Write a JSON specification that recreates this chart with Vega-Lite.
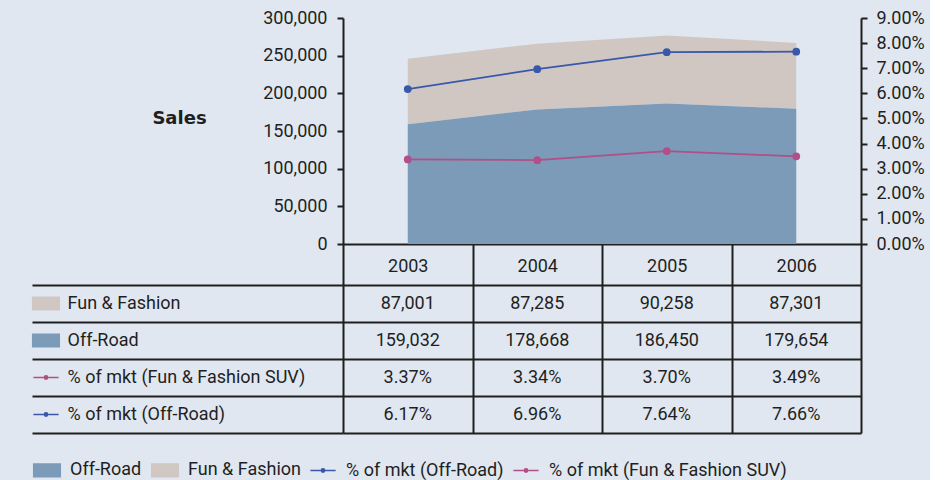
{
  "$schema": "https://vega.github.io/schema/vega-lite/v6.json",
  "background": "#e0e7f0",
  "padding": {"left": 29, "top": 9, "right": 5, "bottom": 0},
  "datasets": {
    "sales": [
      {"year": "2003", "series": "Fun & Fashion", "sales": 87001},
      {"year": "2004", "series": "Fun & Fashion", "sales": 87285},
      {"year": "2005", "series": "Fun & Fashion", "sales": 90258},
      {"year": "2006", "series": "Fun & Fashion", "sales": 87301},
      {"year": "2003", "series": "Off-Road", "sales": 159032},
      {"year": "2004", "series": "Off-Road", "sales": 178668},
      {"year": "2005", "series": "Off-Road", "sales": 186450},
      {"year": "2006", "series": "Off-Road", "sales": 179654}
    ],
    "share": [
      {"year": "2003", "series": "% of mkt (Fun & Fashion SUV)", "share": 0.0337},
      {"year": "2004", "series": "% of mkt (Fun & Fashion SUV)", "share": 0.0334},
      {"year": "2005", "series": "% of mkt (Fun & Fashion SUV)", "share": 0.0370},
      {"year": "2006", "series": "% of mkt (Fun & Fashion SUV)", "share": 0.0349},
      {"year": "2003", "series": "% of mkt (Off-Road)", "share": 0.0617},
      {"year": "2004", "series": "% of mkt (Off-Road)", "share": 0.0696},
      {"year": "2005", "series": "% of mkt (Off-Road)", "share": 0.0764},
      {"year": "2006", "series": "% of mkt (Off-Road)", "share": 0.0766}
    ],
    "series": [
      {"series": "Fun & Fashion"},
      {"series": "Off-Road"},
      {"series": "% of mkt (Fun & Fashion SUV)"},
      {"series": "% of mkt (Off-Road)"}
    ]
  },
  "columns": 2,
  "spacing": {"row": 41, "column": 0},
  "align": "each",
  "bounds": "flush",
  "concat": [
    {
      "width": 311,
      "height": 226,
      "data": {"values": [{"label": "Sales"}]},
      "mark": {"type": "text", "font": "DejaVu Sans", "fontWeight": "bold", "fontSize": 18, "dx": -8, "dy": -12},
      "encoding": {"text": {"field": "label", "type": "nominal"}}
    },
    {
      "width": 518,
      "height": 226,
      "encoding": {
        "x": {
          "field": "year", "type": "ordinal",
          "scale": {"type": "band", "paddingInner": 0, "paddingOuter": 0},
          "axis": {"title": null, "labelAngle": 0, "tickBand": "extent", "tickSize": 41, "labelPadding": -19, "labelBaseline": "middle", "domain": true, "grid": false}
        }
      },
      "layer": [
        {
          "data": {"name": "sales"},
          "mark": {"type": "area", "opacity": 1},
          "encoding": {
            "y": {
              "field": "sales", "type": "quantitative", "stack": "zero",
              "scale": {"domain": [0, 300000]},
              "axis": {"orient": "left", "title": null, "values": [0, 50000, 100000, 150000, 200000, 250000, 300000], "format": ",.0f", "tickSize": 6, "labelPadding": 10, "grid": false}
            },
            "fill": {
              "field": "series", "type": "nominal",
              "scale": {"domain": ["Off-Road", "Fun & Fashion", "% of mkt (Off-Road)", "% of mkt (Fun & Fashion SUV)"], "range": ["#7c9bb8", "#d0c7c2", "#3a58aa", "#b14f88"]},
              "legend": null
            },
            "order": {"field": "series", "sort": "descending"}
          }
        },
        {
          "data": {"name": "share"},
          "encoding": {
            "y": {
              "field": "share", "type": "quantitative",
              "scale": {"domain": [0, 0.09]},
              "axis": {"orient": "right", "title": null, "values": [0, 0.01, 0.02, 0.03, 0.04, 0.05, 0.06, 0.07, 0.08, 0.09], "format": ".2%", "tickSize": 6, "labelPadding": 9, "grid": false}
            }
          },
          "layer": [
            {
              "mark": {"type": "line", "strokeWidth": 1.8},
              "encoding": {
                "stroke": {
                  "field": "series", "type": "nominal",
                  "scale": {"domain": ["% of mkt (Off-Road)", "% of mkt (Fun & Fashion SUV)"], "range": ["#3a58aa", "#b14f88"]},
                  "legend": null
                }
              }
            },
            {
              "mark": {"type": "point", "filled": true, "opacity": 1, "size": 60},
              "encoding": {
                "fill": {
                  "field": "series", "type": "nominal",
                  "scale": {"domain": ["Off-Road", "Fun & Fashion", "% of mkt (Off-Road)", "% of mkt (Fun & Fashion SUV)"], "range": ["#7c9bb8", "#d0c7c2", "#3a58aa", "#b14f88"]},
                  "legend": null
                }
              }
            }
          ]
        }
      ],
      "resolve": {"scale": {"y": "independent"}}
    },
    {
      "width": 28,
      "height": 148,
      "data": {"name": "series"},
      "mark": {"type": "point", "filled": true, "opacity": 1, "size": 784, "strokeWidth": 1.5},
      "encoding": {
        "y": {
          "field": "series", "type": "nominal",
          "scale": {"type": "band", "domain": ["Fun & Fashion", "Off-Road", "% of mkt (Fun & Fashion SUV)", "% of mkt (Off-Road)"], "paddingInner": 0, "paddingOuter": 0},
          "axis": {"orient": "right", "title": null, "ticks": false, "domain": false, "grid": false, "labelPadding": 7, "labelAlign": "left", "labelLimit": 400}
        },
        "fill": {
          "field": "series", "type": "nominal",
          "scale": {"domain": ["Off-Road", "Fun & Fashion", "% of mkt (Off-Road)", "% of mkt (Fun & Fashion SUV)"], "range": ["#7c9bb8", "#d0c7c2", "#3a58aa", "#b14f88"]},
          "legend": {"orient": "none", "legendX": 0, "legendY": 170, "direction": "horizontal", "title": null, "symbolSize": 784, "symbolStrokeWidth": 1.5, "labelOffset": 8, "columnPadding": 6, "padding": 0}
        },
        "stroke": {
          "field": "series", "type": "nominal",
          "scale": {"domain": ["Off-Road", "Fun & Fashion", "% of mkt (Off-Road)", "% of mkt (Fun & Fashion SUV)"], "range": ["#7c9bb8", "#d0c7c2", "#3a58aa", "#b14f88"]},
          "legend": {"orient": "none", "legendX": 0, "legendY": 170, "direction": "horizontal", "title": null, "symbolSize": 784, "symbolStrokeWidth": 1.5, "labelOffset": 8, "columnPadding": 6, "padding": 0}
        },
        "shape": {
          "field": "series", "type": "nominal",
          "scale": {"domain": ["Off-Road", "Fun & Fashion", "% of mkt (Off-Road)", "% of mkt (Fun & Fashion SUV)"], "range": ["M-0.95,-0.45H0.95V0.45H-0.95Z", "M-0.95,-0.45H0.95V0.45H-0.95Z", "M-0.9,0H0.9M-0.12,0A0.12,0.12,0,1,0,0.12,0A0.12,0.12,0,1,0,-0.12,0Z", "M-0.9,0H0.9M-0.12,0A0.12,0.12,0,1,0,0.12,0A0.12,0.12,0,1,0,-0.12,0Z"]},
          "legend": {"orient": "none", "legendX": 0, "legendY": 170, "direction": "horizontal", "title": null, "symbolSize": 784, "symbolStrokeWidth": 1.5, "labelOffset": 8, "columnPadding": 6, "padding": 0}
        }
      }
    },
    {
      "width": 518,
      "height": 148,
      "encoding": {
        "x": {
          "field": "year", "type": "ordinal",
          "scale": {"type": "band", "paddingInner": 0, "paddingOuter": 0},
          "axis": {"title": null, "labels": false, "ticks": false, "domain": false, "grid": true, "tickBand": "extent"}
        },
        "y": {
          "field": "series", "type": "nominal",
          "scale": {"type": "band", "domain": ["Fun & Fashion", "Off-Road", "% of mkt (Fun & Fashion SUV)", "% of mkt (Off-Road)"], "paddingInner": 0, "paddingOuter": 0},
          "axis": {"title": null, "labels": false, "ticks": true, "tickSize": 311, "tickBand": "extent", "grid": true, "domain": false}
        }
      },
      "layer": [
        {
          "data": {"name": "sales"},
          "mark": {"type": "text"},
          "encoding": {"text": {"field": "sales", "type": "quantitative", "format": ","}}
        },
        {
          "data": {"name": "share"},
          "mark": {"type": "text"},
          "encoding": {"text": {"field": "share", "type": "quantitative", "format": ".2%"}}
        }
      ]
    }
  ],
  "resolve": {"scale": {"fill": "independent", "stroke": "independent", "shape": "independent"}},
  "config": {
    "view": {"stroke": null},
    "font": "Roboto",
    "axis": {
      "labelFont": "Roboto", "labelFontSize": 18, "labelColor": "#1f1f1f",
      "domainColor": "#1f1f1f", "domainWidth": 2,
      "tickColor": "#1f1f1f", "tickWidth": 2,
      "gridColor": "#1f1f1f", "gridWidth": 2, "gridOpacity": 1,
      "labelLimit": 400
    },
    "legend": {"labelFont": "Roboto", "labelFontSize": 18, "labelColor": "#1f1f1f", "labelLimit": 400},
    "text": {"font": "Roboto", "fontSize": 18, "color": "#1f1f1f"}
  }
}
